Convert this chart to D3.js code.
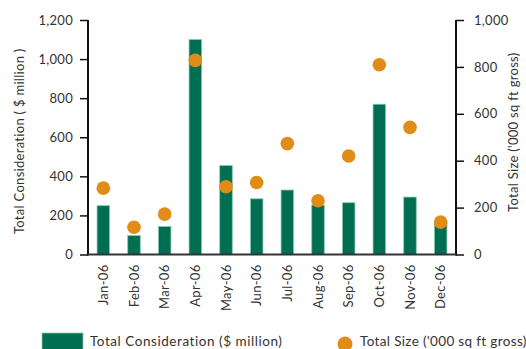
<!DOCTYPE html>
<html><head><meta charset="utf-8">
<script src="https://cdn.jsdelivr.net/npm/d3@7"></script>
<style>
body{margin:0;background:#fff;}
svg text{font-family:"Century Gothic","Lato","DejaVu Sans",sans-serif;fill:#333;}
</style></head>
<body><svg id="c" width="526" height="349"></svg>
<script>
const months = ["Jan-06","Feb-06","Mar-06","Apr-06","May-06","Jun-06","Jul-06","Aug-06","Sep-06","Oct-06","Nov-06","Dec-06"];
const consideration = [250, 97, 143, 1100, 455, 285, 330, 253, 265, 769, 294, 168];
const totalSize = [283, 116, 172, 828, 289, 307, 473, 229, 420, 809, 542, 138];
const leftTicks = [0, 200, 400, 600, 800, 1000, 1200];
const rightTicks = [0, 200, 400, 600, 800, 1000];
const leftTitle = "Total Consideration ( $ million )";
const rightTitle = "Total Size ('000 sq ft gross)";
const legendLabels = ["Total Consideration ($ million)", "Total Size ('000 sq ft gross)"];

const svg = d3.select("#c");
const L = 88, R = 456, T = 20, B = 254.5;
const green = "#006f51", orange = "#e08c16";
const FF = '"Century Gothic","Lato","DejaVu Sans",sans-serif';

const x = d3.scaleBand().domain(months).range([L, R]).paddingInner(0.59).paddingOuter(0.295);
const yL = d3.scaleLinear().domain([0, 1200]).range([B, T]);
const yR = d3.scaleLinear().domain([0, 1000]).range([B, T]);

// bars
svg.append("g").selectAll("rect").data(consideration).join("rect")
  .attr("x", (d,i) => x(months[i]))
  .attr("width", x.bandwidth())
  .attr("y", d => yL(d))
  .attr("height", d => B - yL(d))
  .attr("fill", green)
  .attr("stroke", "#8cc7b0").attr("stroke-width", 0.8);

// dots
svg.append("g").selectAll("circle").data(totalSize).join("circle")
  .attr("cx", (d,i) => x(months[i]) + x.bandwidth()/2)
  .attr("cy", d => yR(d))
  .attr("r", 6.8)
  .attr("fill", orange);

// left axis
const gl = svg.append("g").attr("transform", `translate(${L},0)`)
  .call(d3.axisLeft(yL).tickValues(leftTicks).tickSize(8).tickPadding(7).tickFormat(d3.format(",")));
// right axis
const gr = svg.append("g").attr("transform", `translate(${R},0)`)
  .call(d3.axisRight(yR).tickValues(rightTicks).tickSize(8).tickPadding(10).tickFormat(d3.format(",")));
[gl, gr].forEach(g => {
  g.select(".domain").attr("stroke", "#111").attr("stroke-width", 2).attr("d", `M0,${T}V${B+1}`);
  g.selectAll(".tick line").attr("stroke", "#111").attr("stroke-width", 1.5);
  g.selectAll(".tick text").attr("font-size", 13).attr("fill", "#333").style("font-family", FF).style("letter-spacing", "0.3px");
});

// bottom axis
const gb = svg.append("g").attr("transform", `translate(0,${B})`)
  .call(d3.axisBottom(x).tickSize(0).tickPadding(8));
gb.select(".domain").attr("stroke", "#333").attr("stroke-width", 2).attr("d", `M${L},0H${R}`);
gb.selectAll(".tick text")
  .attr("font-size", 13).attr("fill", "#222")
  .style("font-family", FF).style("letter-spacing", "0.3px")
  .attr("transform", "rotate(-90)")
  .attr("text-anchor", "end")
  .attr("x", -10).attr("y", 0).attr("dy", "0.35em");

// axis titles
svg.append("text").attr("transform", `translate(24,${(T+B)/2+4}) rotate(-90)`)
  .attr("text-anchor", "middle").attr("font-size", 13).style("letter-spacing", "0.3px").text(leftTitle);
svg.append("text").attr("transform", `translate(518,${(T+B)/2 - 5}) rotate(-90)`)
  .attr("text-anchor", "middle").attr("font-size", 13).style("letter-spacing", "0.3px").text(rightTitle);

// legend
svg.append("rect").attr("x", 42).attr("y", 333).attr("width", 41).attr("height", 17)
  .attr("fill", green).attr("stroke", "#8cc7b0").attr("stroke-width", 0.8);
svg.append("text").attr("x", 90).attr("y", 346).attr("font-size", 13.5).style("letter-spacing", "0.55px").text(legendLabels[0]);
svg.append("circle").attr("cx", 345).attr("cy", 344).attr("r", 7.5).attr("fill", orange);
svg.append("text").attr("x", 360).attr("y", 346).attr("font-size", 13.5).style("letter-spacing", "0.35px").text(legendLabels[1]);
</script></body></html>
